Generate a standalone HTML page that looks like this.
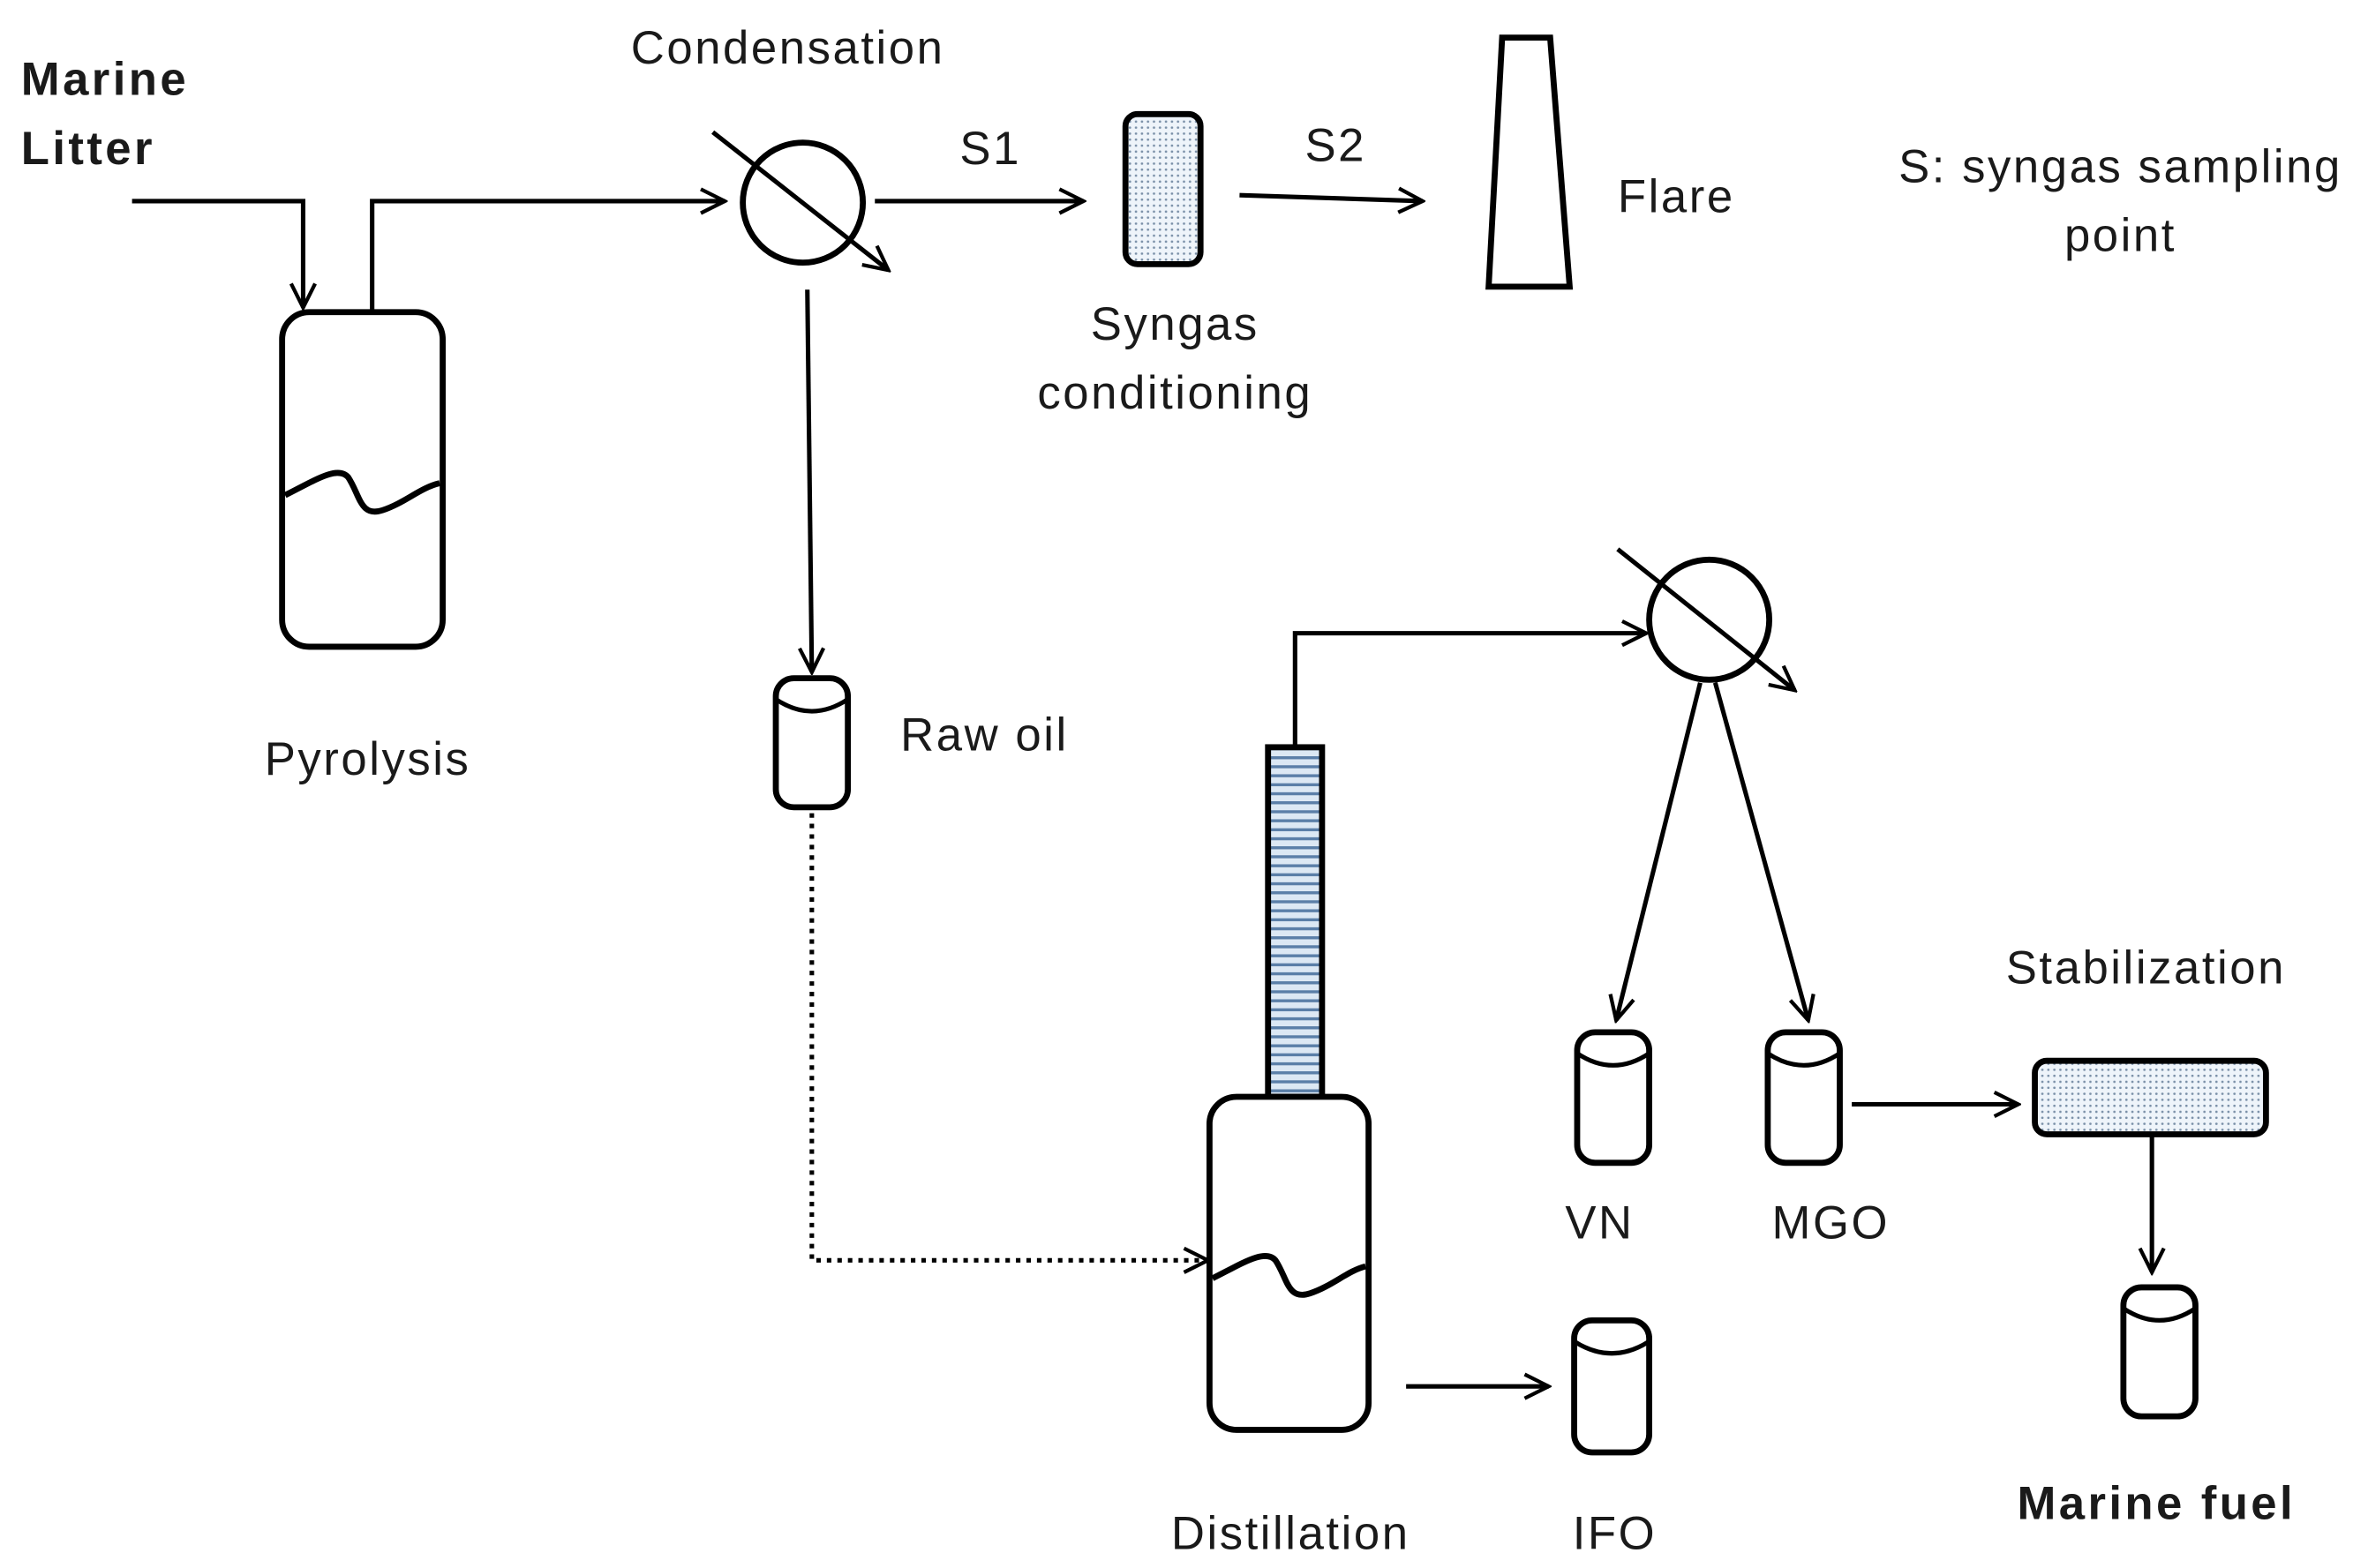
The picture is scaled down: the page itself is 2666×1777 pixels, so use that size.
<!DOCTYPE html>
<html><head><meta charset="utf-8"><style>
html,body{margin:0;padding:0;background:#fff}
svg{display:block}
text{font-family:"Liberation Sans",sans-serif;font-size:31px;letter-spacing:1.5px;fill:#1a1a1a}
text.b{font-weight:bold;letter-spacing:2px}
</style></head><body>
<svg width="2666" height="1777" viewBox="0 0 1568 1045" xmlns="http://www.w3.org/2000/svg">
<defs>
<marker id="a" viewBox="0 0 20 20" refX="18" refY="10" markerWidth="20" markerHeight="20" markerUnits="userSpaceOnUse" orient="auto">
<path d="M2,2 L18,10 L2,18" fill="none" stroke="#000" stroke-width="2.5"/>
</marker>
<pattern id="dots" width="4" height="4" patternUnits="userSpaceOnUse">
<rect width="4" height="4" fill="#eef4fa"/><circle cx="1" cy="1" r="0.8" fill="#7a90a8"/>
</pattern>
<pattern id="stripes" width="6" height="6" patternUnits="userSpaceOnUse">
<rect width="6" height="6" fill="#dce8f4"/><rect y="0" width="6" height="2" fill="#5b7fa8"/>
</pattern>
</defs>
<g stroke="#000" fill="none" stroke-width="3">
<polyline points="88,134 202,134 202,205" marker-end="url(#a)"/>
<rect x="188" y="208" width="107" height="223" rx="18" stroke-width="4"/>
<path d="M190,330 C210,320 225,310 232,318 C240,330 240,345 255,340 C270,335 280,325 293,322" stroke-width="4"/>
<polyline points="248,208 248,134 483,134" marker-end="url(#a)"/>
<circle cx="535" cy="135" r="40" stroke-width="4"/>
<line x1="475" y1="88" x2="592" y2="180" marker-end="url(#a)"/>
<line x1="583" y1="134" x2="722" y2="134" marker-end="url(#a)"/>
<rect x="750" y="76" width="50" height="100" rx="8" fill="url(#dots)" stroke-width="4"/>
<line x1="826" y1="130" x2="948" y2="134" marker-end="url(#a)"/>
<polygon points="1001,25 1033,25 1046,191 992,191" stroke-width="4"/>
<line x1="538" y1="193" x2="541" y2="448" marker-end="url(#a)"/>
<rect x="517" y="452" width="48" height="86" rx="12" stroke-width="4"/>
<path d="M517,466 Q541,482 565,466" stroke-width="3"/>
<polyline points="541,542 541,840 805,840" stroke-dasharray="3,4" marker-end="url(#a)"/>
<rect x="845" y="498" width="36" height="233" fill="url(#stripes)" stroke-width="4"/>
<rect x="806" y="731" width="106" height="222" rx="18" fill="#fff" stroke-width="4"/>
<path d="M808,852 C828,842 843,832 850,840 C858,852 858,867 873,862 C888,857 898,847 910,844" stroke-width="4"/>
<polyline points="863,498 863,422 1097,422" marker-end="url(#a)"/>
<circle cx="1139" cy="413" r="40" stroke-width="4"/>
<line x1="1078" y1="366" x2="1196" y2="460" marker-end="url(#a)"/>
<line x1="1133" y1="455" x2="1077" y2="680" marker-end="url(#a)"/>
<line x1="1143" y1="455" x2="1205" y2="680" marker-end="url(#a)"/>
<rect x="1051" y="688" width="48" height="87" rx="12" stroke-width="4"/>
<path d="M1051,702 Q1075,718 1099,702"/>
<rect x="1178" y="688" width="48" height="87" rx="12" stroke-width="4"/>
<path d="M1178,702 Q1202,718 1226,702"/>
<line x1="1234" y1="736" x2="1345" y2="736" marker-end="url(#a)"/>
<rect x="1356" y="707" width="154" height="49" rx="8" fill="url(#dots)" stroke-width="4"/>
<line x1="1434" y1="756" x2="1434" y2="848" marker-end="url(#a)"/>
<rect x="1415" y="858" width="48" height="86" rx="12" stroke-width="4"/>
<path d="M1415,872 Q1439,888 1463,872"/>
<line x1="937" y1="924" x2="1032" y2="924" marker-end="url(#a)"/>
<rect x="1049" y="880" width="50" height="88" rx="12" stroke-width="4"/>
<path d="M1049,894 Q1074,910 1099,894"/>
</g>
<g dominant-baseline="central">
<text class="b" x="14" y="53">Marine</text>
<text class="b" x="14" y="99">Litter</text>
<text x="525" y="32" text-anchor="middle">Condensation</text>
<text x="660" y="99" text-anchor="middle">S1</text>
<text x="890" y="97" text-anchor="middle">S2</text>
<text x="1078" y="131">Flare</text>
<text x="1413" y="111" text-anchor="middle">S: syngas sampling</text>
<text x="1413" y="157" text-anchor="middle">point</text>
<text x="783" y="216" text-anchor="middle">Syngas</text>
<text x="783" y="262" text-anchor="middle">conditioning</text>
<text x="245" y="506" text-anchor="middle">Pyrolysis</text>
<text x="600" y="490">Raw oil</text>
<text x="1430" y="645" text-anchor="middle">Stabilization</text>
<text x="1066" y="815" text-anchor="middle">VN</text>
<text x="1220" y="815" text-anchor="middle">MGO</text>
<text class="b" x="1437" y="1002" text-anchor="middle">Marine fuel</text>
<text x="860" y="1022" text-anchor="middle">Distillation</text>
<text x="1076" y="1022" text-anchor="middle">IFO</text>
</g>
</svg>
</body></html>
